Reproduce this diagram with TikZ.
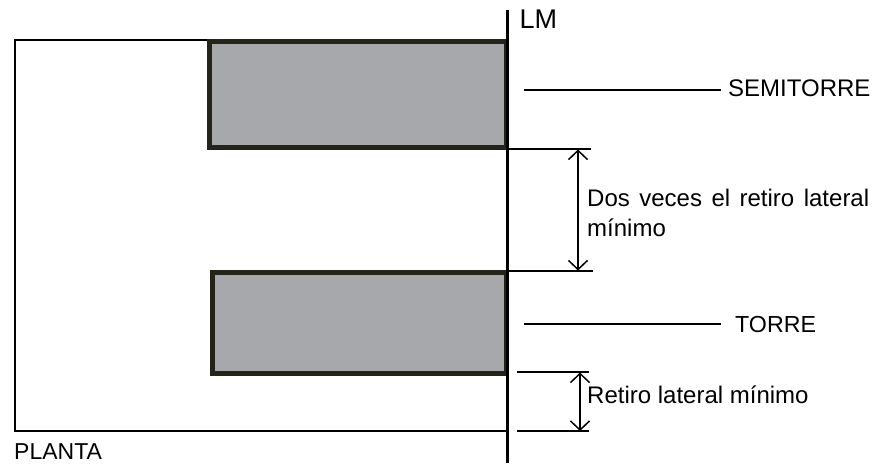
\documentclass[tikz,border=0pt]{standalone}
\usepackage{fontspec}
\setmainfont{Liberation Sans}
\usetikzlibrary{arrows.meta}
\definecolor{edgeDark}{HTML}{24241A}
\definecolor{fillGrey}{HTML}{A7A8AC}
\tikzset{
  tower/.style={draw=edgeDark,fill=fillGrey,line width=5pt},
  thinline/.style={draw=black,line width=1.7pt},
  dim/.style={draw=black,line width=1.5pt,{Straight Barb[length=9pt,width=19pt,line width=1.5pt]}-{Straight Barb[length=9pt,width=19pt,line width=1.5pt]}},
  lab/.style={inner sep=0pt,anchor=base west,font=\fontsize{24}{28}\selectfont},
}
\begin{document}
\begin{tikzpicture}[x=1pt,y=-1pt]
\useasboundingbox (0,0) rectangle (890,463);
\coordinate (oTL) at (15,40);
\coordinate (oBR) at (507,431);
\draw[thinline] (oTL) rectangle (oBR);
\draw[tower] (209.5,41.8) rectangle (506,147.5);
\draw[tower] (212,272.5) rectangle (506,373.5);
\coordinate (lmT) at (507.5,10);
\coordinate (lmB) at (507.5,463);
\draw[draw=black,line width=2.6pt] (lmT) -- (lmB);
% reference lines
\coordinate (a1) at (507,149); \coordinate (a2) at (591,149);
\coordinate (b1) at (507,271); \coordinate (b2) at (593,271);
\coordinate (c1) at (517,372); \coordinate (c2) at (589,372);
\coordinate (d1) at (517,431); \coordinate (d2) at (589,431);
\draw[thinline] (a1)--(a2);
\draw[thinline] (b1)--(b2);
\draw[thinline] (c1)--(c2);
\draw[thinline] (d1)--(d2);
\coordinate (u1) at (578,149.5); \coordinate (u2) at (578,270.5);
\coordinate (v1) at (580,372.5); \coordinate (v2) at (580,431);
\draw[dim] (u1)--(u2);
\draw[dim] (v1)--(v2);
% texts
\node[lab] (lm) at (519.5,28.5) {\fontsize{27}{30}\selectfont LM};
\node[lab] (semi) at (728,96) {SEMITORRE};
\node[lab,font=\fontsize{23.2}{28}\selectfont] (torre) at (735,332.5) {TORRE};
\node[lab] (dos) at (587,206.5) {\makebox[282pt][s]{Dos veces el retiro lateral}};
\node[lab] (min) at (587,236) {mínimo};
\node[lab] (ret) at (587,403) {Retiro lateral mínimo};
\node[lab,font=\fontsize{23}{26}\selectfont] (pl) at (14,459.5) {PLANTA};
\coordinate (s1) at (524,90);
\coordinate (s2) at (721,90);
\coordinate (t1) at (524,324);
\coordinate (t2) at (721,324);
\draw[thinline] (s1)--(s2);
\draw[thinline] (t1)--(t2);
\end{tikzpicture}
\end{document}
